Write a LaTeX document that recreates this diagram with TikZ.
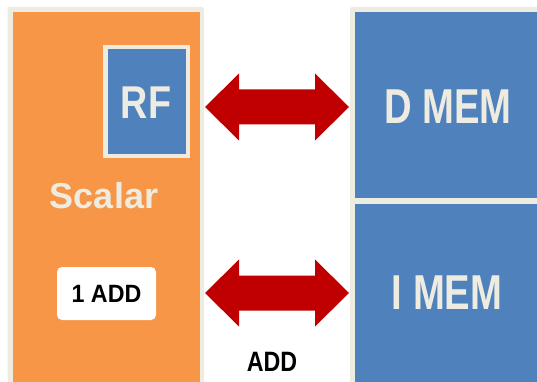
\documentclass[tikz,border=0pt]{standalone}
\usepackage{fontspec}
\setmainfont{Liberation Sans}
\usepackage{graphicx}
\definecolor{cOrange}{HTML}{F79646}
\definecolor{cBlue}{HTML}{4F81BD}
\definecolor{cCream}{HTML}{EEECE1}
\definecolor{cRed}{HTML}{C00000}
\tikzset{
  lbl/.style={inner sep=0pt, font=\bfseries},
  blockarrow/.style={fill=cRed, draw=none},
}
\newcommand{\dblarrow}[1]{% left tip coordinate; total length 144
  \fill[blockarrow] (#1) -- ++(34,-33.5) -- ++(0,16) -- ++(76,0) -- ++(0,-16) -- ++(34,33.5)
    -- ++(-34,33.5) -- ++(0,-16) -- ++(-76,0) -- ++(0,16) -- cycle;}
\begin{document}
\begin{tikzpicture}[x=1pt,y=-1pt]
\useasboundingbox (0,0) rectangle (537,382);
\clip (0,0) rectangle (537,382);
% scalar block
\fill[cCream, rounded corners=2pt] (7.5,7) rectangle (204,400);
\node[fill=cOrange, inner sep=0pt, anchor=north west, minimum width=187pt, minimum height=390pt] (scalar) at (12.5,12) {};
% RF
\node[fill=cBlue, draw=cCream, line width=4.5pt, inner sep=0pt, minimum width=82.5pt, minimum height=108.5pt] (rf) at (146.5,101.5) {};
\node[lbl, text=cCream, font=\bfseries\fontsize{46}{46}\selectfont] (rft) at (146,103) {\scalebox{0.82}[1]{RF}};
\node[lbl, text=cCream, font=\bfseries\fontsize{36}{36}\selectfont] (sct) at (104,196) {Scalar};
\node[fill=white, rounded corners=5pt, inner sep=0pt, minimum width=99pt, minimum height=53pt] (add1) at (106.5,293.5) {};
\node[lbl, text=black, font=\bfseries\fontsize{25}{25}\selectfont] (add1t) at (106.5,294) {\scalebox{0.93}[1]{1 ADD}};
% memory block
\fill[cCream, rounded corners=2pt] (350,7) rectangle (560,400);
\node[fill=cBlue, inner sep=0pt, anchor=north west, minimum width=200pt, minimum height=186pt] (dmem) at (355,12) {};
\node[fill=cBlue, inner sep=0pt, anchor=north west, minimum width=200pt, minimum height=190pt] (imem) at (355,204) {};
\node[lbl, text=cCream, font=\bfseries\fontsize{49}{49}\selectfont] (dmt) at (448,107) {\scalebox{0.78}[1]{D MEM}};
\node[lbl, text=cCream, font=\bfseries\fontsize{49}{49}\selectfont] (imt) at (447,293) {\scalebox{0.78}[1]{I MEM}};
% arrows
\coordinate (a1l) at (205,107);
\coordinate (a2l) at (205,293);
\dblarrow{a1l}
\dblarrow{a2l}
\node[lbl, text=black, font=\bfseries\fontsize{28}{28}\selectfont] (addt) at (272,362) {\scalebox{0.83}[1]{ADD}};
\end{tikzpicture}
\end{document}
